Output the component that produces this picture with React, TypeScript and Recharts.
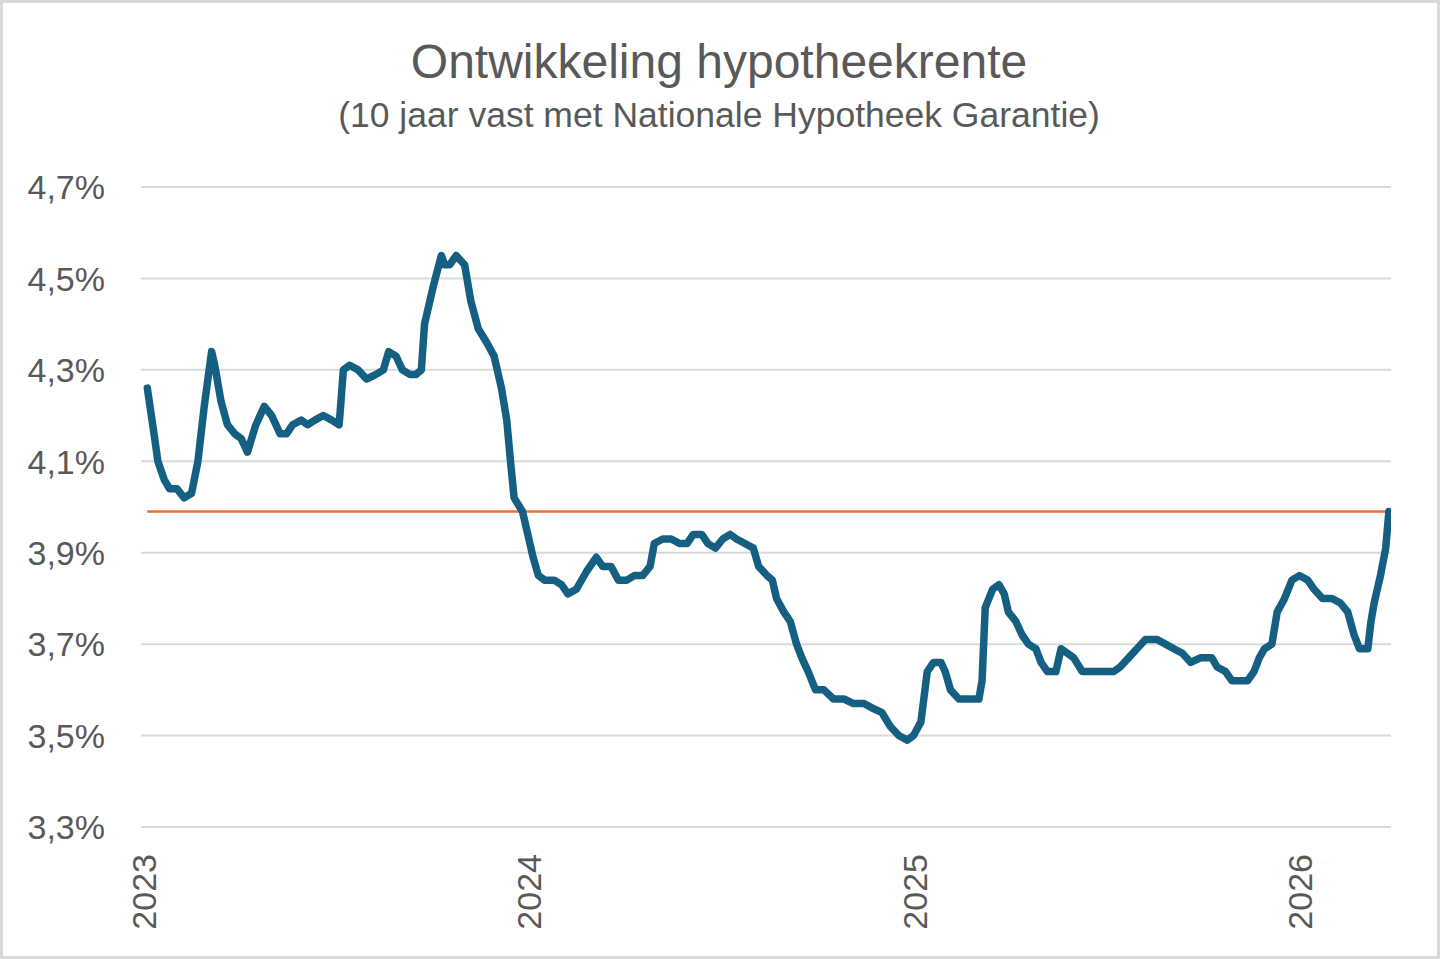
import React from 'react';
import { LineChart, Line, XAxis, YAxis, CartesianGrid, ReferenceLine } from 'recharts';

// hypotheekrente 10 jaar vast met NHG, per datum
const reeks2023: [string, number][] = [
  ['2023-01-04', 4.26], ['2023-01-11', 4.15], ['2023-01-14', 4.10], ['2023-01-20', 4.06],
  ['2023-01-25', 4.04], ['2023-02-01', 4.04], ['2023-02-08', 4.02], ['2023-02-15', 4.03],
  ['2023-02-21', 4.10], ['2023-02-27', 4.22], ['2023-03-06', 4.34], ['2023-03-09', 4.31],
  ['2023-03-15', 4.23], ['2023-03-21', 4.18], ['2023-03-28', 4.16], ['2023-04-03', 4.15],
  ['2023-04-09', 4.12], ['2023-04-17', 4.18], ['2023-04-25', 4.22], ['2023-05-02', 4.20],
  ['2023-05-10', 4.16], ['2023-05-16', 4.16], ['2023-05-22', 4.18], ['2023-05-30', 4.19],
  ['2023-06-05', 4.18], ['2023-06-12', 4.19], ['2023-06-20', 4.20], ['2023-06-28', 4.19],
  ['2023-07-05', 4.18], ['2023-07-09', 4.30], ['2023-07-15', 4.31], ['2023-07-23', 4.30],
  ['2023-07-31', 4.28], ['2023-08-09', 4.29], ['2023-08-16', 4.30], ['2023-08-21', 4.34],
  ['2023-08-28', 4.33], ['2023-09-03', 4.30], ['2023-09-10', 4.29], ['2023-09-16', 4.29],
  ['2023-09-21', 4.30], ['2023-09-24', 4.40], ['2023-10-02', 4.48], ['2023-10-10', 4.55],
  ['2023-10-13', 4.53], ['2023-10-18', 4.53], ['2023-10-24', 4.55], ['2023-11-01', 4.53],
  ['2023-11-07', 4.45], ['2023-11-14', 4.39], ['2023-11-22', 4.36], ['2023-11-29', 4.33],
  ['2023-12-06', 4.26], ['2023-12-11', 4.19], ['2023-12-15', 4.09], ['2023-12-18', 4.02],
  ['2023-12-26', 3.99], ['2023-12-31', 3.94],
];

const reeks2024: [string, number][] = [
  ['2024-01-05', 3.89], ['2024-01-10', 3.85], ['2024-01-16', 3.84], ['2024-01-25', 3.84],
  ['2024-02-01', 3.83], ['2024-02-07', 3.81], ['2024-02-15', 3.82], ['2024-02-25', 3.86],
  ['2024-03-05', 3.89], ['2024-03-11', 3.87], ['2024-03-19', 3.87], ['2024-03-26', 3.84],
  ['2024-04-03', 3.84], ['2024-04-10', 3.85], ['2024-04-18', 3.85], ['2024-04-25', 3.87],
  ['2024-04-29', 3.92], ['2024-05-07', 3.93], ['2024-05-15', 3.93], ['2024-05-23', 3.92],
  ['2024-05-30', 3.92], ['2024-06-05', 3.94], ['2024-06-13', 3.94], ['2024-06-19', 3.92],
  ['2024-06-26', 3.91], ['2024-07-03', 3.93], ['2024-07-10', 3.94], ['2024-07-16', 3.93],
  ['2024-07-24', 3.92], ['2024-08-01', 3.91], ['2024-08-06', 3.87], ['2024-08-14', 3.85],
  ['2024-08-19', 3.84], ['2024-08-23', 3.80], ['2024-08-30', 3.77], ['2024-09-05', 3.75],
  ['2024-09-11', 3.70], ['2024-09-16', 3.67], ['2024-09-22', 3.64], ['2024-09-29', 3.60],
  ['2024-10-07', 3.60], ['2024-10-16', 3.58], ['2024-10-26', 3.58], ['2024-11-04', 3.57],
  ['2024-11-14', 3.57], ['2024-11-22', 3.56], ['2024-12-01', 3.55], ['2024-12-09', 3.52],
  ['2024-12-17', 3.50], ['2024-12-25', 3.49], ['2024-12-31', 3.50],
];

const reeks2025: [string, number][] = [
  ['2025-01-07', 3.53], ['2025-01-13', 3.64], ['2025-01-19', 3.66], ['2025-01-26', 3.66],
  ['2025-01-30', 3.64], ['2025-02-04', 3.60], ['2025-02-12', 3.58], ['2025-02-23', 3.58],
  ['2025-03-03', 3.58], ['2025-03-06', 3.62], ['2025-03-09', 3.78], ['2025-03-16', 3.82],
  ['2025-03-22', 3.83], ['2025-03-27', 3.81], ['2025-03-31', 3.77], ['2025-04-07', 3.75],
  ['2025-04-13', 3.72], ['2025-04-19', 3.70], ['2025-04-26', 3.69], ['2025-05-01', 3.66],
  ['2025-05-07', 3.64], ['2025-05-15', 3.64], ['2025-05-20', 3.69], ['2025-05-26', 3.68],
  ['2025-06-01', 3.67], ['2025-06-09', 3.64], ['2025-06-14', 3.64], ['2025-07-09', 3.64],
  ['2025-07-15', 3.65], ['2025-07-23', 3.67], ['2025-07-31', 3.69], ['2025-08-08', 3.71],
  ['2025-08-19', 3.71], ['2025-08-27', 3.70], ['2025-09-04', 3.69], ['2025-09-12', 3.68],
  ['2025-09-20', 3.66], ['2025-09-29', 3.67], ['2025-10-10', 3.67], ['2025-10-15', 3.65],
  ['2025-10-23', 3.64], ['2025-10-29', 3.62], ['2025-11-05', 3.62], ['2025-11-13', 3.62],
  ['2025-11-19', 3.64], ['2025-11-24', 3.67], ['2025-11-29', 3.69], ['2025-12-06', 3.70],
  ['2025-12-11', 3.77], ['2025-12-18', 3.80], ['2025-12-25', 3.84],
];

const reeks2026: [string, number][] = [
  ['2026-01-01', 3.85], ['2026-01-09', 3.84], ['2026-01-15', 3.82], ['2026-01-23', 3.80],
  ['2026-02-01', 3.80], ['2026-02-09', 3.79], ['2026-02-16', 3.77], ['2026-02-22', 3.72],
  ['2026-02-27', 3.69], ['2026-03-07', 3.69], ['2026-03-10', 3.75], ['2026-03-13', 3.79],
  ['2026-03-19', 3.85], ['2026-03-24', 3.91], ['2026-03-27', 3.99],
];

const JAREN = [2023, 2024, 2025, 2026];
const Y_TICKS = [3.3, 3.5, 3.7, 3.9, 4.1, 4.3, 4.5, 4.7];
const HUIDIGE_RENTE = 3.99;

const TITEL = 'Ontwikkeling hypotheekrente';
const SUBTITEL = '(10 jaar vast met Nationale Hypotheek Garantie)';

const BLAUW = '#156082';
const ORANJE = '#E97132';
const GRIJS_TEKST = '#595959';
const GRIJS_LIJN = '#d9d9d9';
const FONT = "'Liberation Sans', Arial, sans-serif";

const data = [...reeks2023, ...reeks2024, ...reeks2025, ...reeks2026].map(([datum, rente]) => ({
  t: Date.parse(datum),
  rente,
}));

const eerste = data[0].t;
const laatste = data[data.length - 1].t;

function JaarTick({ x, y, payload }: any) {
  return (
    <text
      transform={`translate(${x},${y + 27}) rotate(-90)`}
      textAnchor="end"
      dy="0.36em"
      fill={GRIJS_TEKST}
      fontSize={34}
      fontFamily={FONT}
    >
      {new Date(payload.value).getUTCFullYear()}
    </text>
  );
}

function RenteTick({ x, y, payload }: any) {
  return (
    <text x={x} y={y} dy="0.36em" textAnchor="end" fill={GRIJS_TEKST} fontSize={34} fontFamily={FONT}>
      {payload.value.toFixed(1).replace('.', ',') + '%'}
    </text>
  );
}

export default function App() {
  return (
    <div style={{ position: 'absolute', left: 0, top: 0, width: 1440, height: 959, background: '#fff' }}>
      <LineChart width={1440} height={959} data={data} margin={{ top: 187, right: 49, bottom: 0, left: 0 }}>
        <CartesianGrid vertical={false} stroke={GRIJS_LIJN} strokeWidth={2} />
        <XAxis
          dataKey="t"
          type="number"
          domain={[Date.UTC(2022, 11, 29), Date.UTC(2026, 2, 29)]}
          ticks={JAREN.map((j) => Date.UTC(j, 0, 1))}
          allowDataOverflow
          axisLine={false}
          tickLine={false}
          tickSize={0}
          tickMargin={0}
          height={132}
          tick={<JaarTick />}
          interval={0}
        />
        <YAxis
          type="number"
          domain={[3.3, 4.7]}
          ticks={Y_TICKS}
          axisLine={false}
          tickLine={false}
          tickSize={0}
          tickMargin={36}
          width={141}
          tick={<RenteTick />}
          interval={0}
        />
        <ReferenceLine
          segment={[{ x: eerste, y: HUIDIGE_RENTE }, { x: laatste, y: HUIDIGE_RENTE }]}
          stroke={ORANJE}
          strokeWidth={2.5}
        />
        <Line
          dataKey="rente"
          type="linear"
          stroke={BLAUW}
          strokeWidth={7.5}
          strokeLinejoin="round"
          strokeLinecap="round"
          dot={false}
          activeDot={false}
          isAnimationActive={false}
        />
      </LineChart>

      {/* titel en ondertitel */}
      <svg width={1440} height={959} style={{ position: 'absolute', left: 0, top: 0, pointerEvents: 'none' }}>
        <text x={719} y={78} textAnchor="middle" fontSize={48} fill={GRIJS_TEKST} fontFamily={FONT}>
          {TITEL}
        </text>
        <text x={719} y={127} textAnchor="middle" fontSize={35.5} fill={GRIJS_TEKST} fontFamily={FONT}>
          {SUBTITEL}
        </text>
      </svg>

      <div
        style={{
          position: 'absolute',
          left: 0,
          top: 0,
          width: 1440,
          height: 959,
          boxSizing: 'border-box',
          border: `3px solid ${GRIJS_LIJN}`,
          pointerEvents: 'none',
        }}
      />
    </div>
  );
}
